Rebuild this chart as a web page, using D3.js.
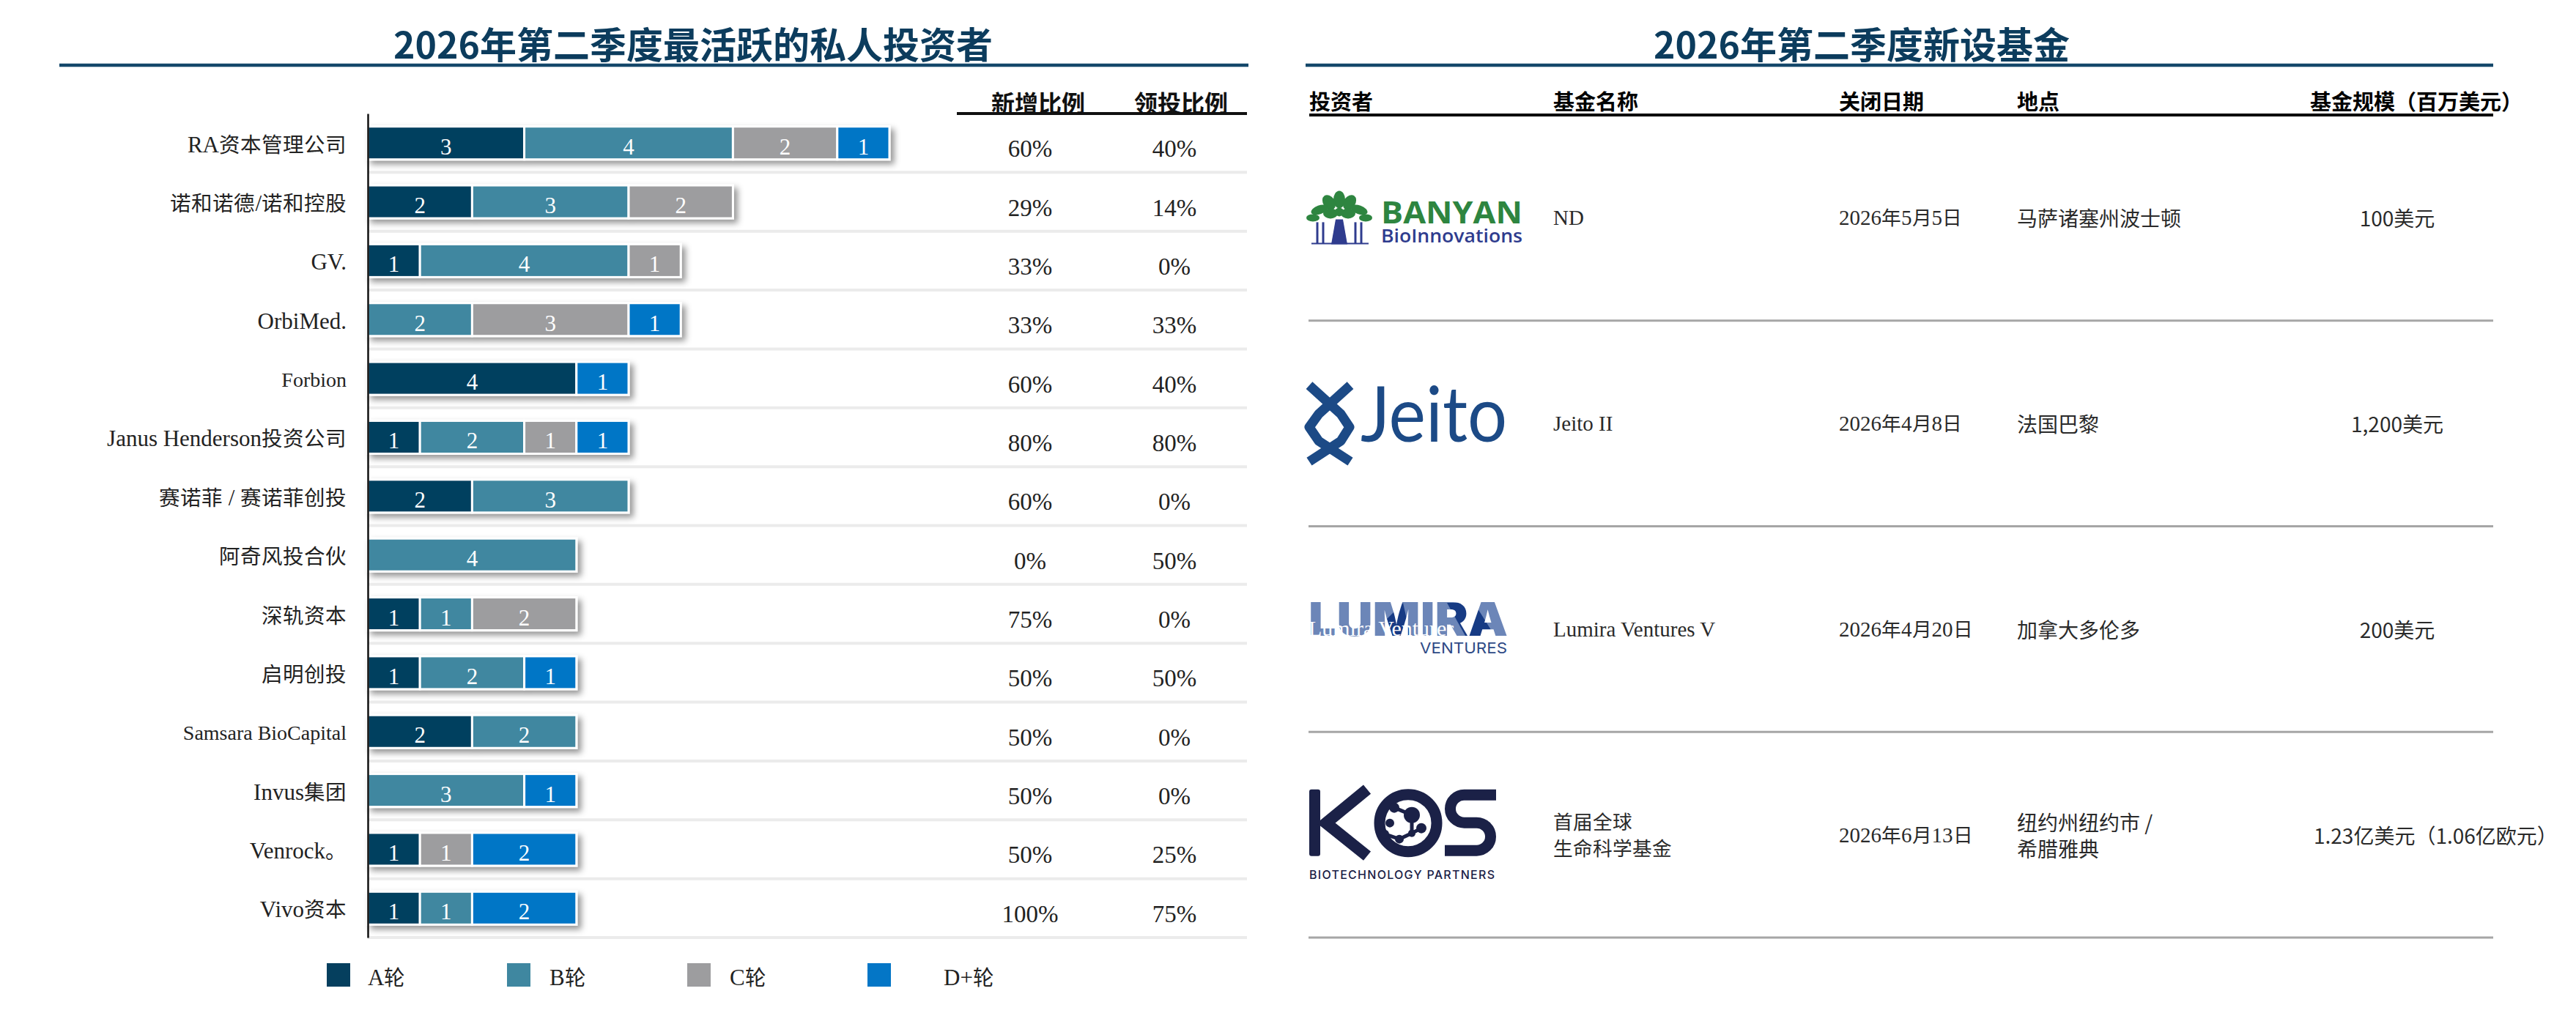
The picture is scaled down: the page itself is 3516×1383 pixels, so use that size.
<!DOCTYPE html>
<html>
<head>
<meta charset="utf-8">
<script src="https://cdn.jsdelivr.net/npm/d3@7"></script>
<style>
  @font-face {
    font-family: "CJKNarrow";
    src: local("Noto Sans CJK SC"), local("Noto Sans CJK SC Regular"), local("NotoSansCJKsc-Regular");
    unicode-range: U+3000-303F, U+4E00-9FFF, U+FF00-FFEF;
    size-adjust: 92%;
  }
  html, body { margin: 0; padding: 0; background: #fff; }
  svg { display: block; }
</style>
</head>
<body>
<svg id="chart" width="3516" height="1383"></svg>
<script>
// ---- data: left panel ----
const investors = ["RA资本管理公司", "诺和诺德/诺和控股", "GV.", "OrbiMed.", "Forbion",
  "Janus Henderson投资公司", "赛诺菲 / 赛诺菲创投", "阿奇风投合伙", "深轨资本", "启明创投",
  "Samsara BioCapital", "Invus集团", "Venrock。", "Vivo资本"];
const rounds = ["A轮", "B轮", "C轮", "D+轮"];
const roundA = [3, 2, 1, 0, 4, 1, 2, 0, 1, 1, 2, 0, 1, 1];
const roundB = [4, 3, 4, 2, 0, 2, 3, 4, 1, 2, 2, 3, 0, 1];
const roundC = [2, 2, 1, 3, 0, 1, 0, 0, 2, 0, 0, 0, 1, 0];
const roundD = [1, 0, 0, 1, 1, 1, 0, 0, 0, 1, 0, 1, 2, 2];
const newShare = [60, 29, 33, 33, 60, 80, 60, 0, 75, 50, 50, 50, 50, 100];
const leadShare = [40, 14, 0, 33, 40, 80, 0, 50, 0, 50, 0, 0, 25, 75];
const pctHeaders = ["新增比例", "领投比例"];

// ---- data: right panel ----
const fundInvestors = ["BANYAN BioInnovations", "Jeito", "Lumira Ventures", "KOS Biotechnology Partners"];
const fundNames = ["ND", "Jeito II", "Lumira Ventures V", "首届全球\n生命科学基金"];
const closeDates = ["2026年5月5日", "2026年4月8日", "2026年4月20日", "2026年6月13日"];
const locations = ["马萨诸塞州波士顿", "法国巴黎", "加拿大多伦多", "纽约州纽约市 /\n希腊雅典"];
const fundSizes = ["100美元", "1,200美元", "200美元", "1.23亿美元（1.06亿欧元）"];
const fundHeaders = ["投资者", "基金名称", "关闭日期", "地点", "基金规模（百万美元）"];

const titles = ["2026年第二季度最活跃的私人投资者", "2026年第二季度新设基金"];

// ---- styles ----
const SERIF = '"Liberation Serif", "CJKNarrow", "Noto Sans CJK SC", serif';
const SANS = '"Noto Sans CJK SC", "Noto Sans", sans-serif';
const TITLE_COLOR = "#0c3c5d";
const color = d3.scaleOrdinal().domain(rounds).range(["#053f5e", "#3f87a0", "#9d9d9f", "#0476c6"]);

const svg = d3.select("#chart");
const defs = svg.append("defs");
defs.append("filter").attr("id", "shadow")
  .attr("x", "-10%").attr("y", "-50%").attr("width", "130%").attr("height", "220%")
  .append("feDropShadow")
  .attr("dx", 5).attr("dy", 5).attr("stdDeviation", 4)
  .attr("flood-color", "#000").attr("flood-opacity", 0.42);

// ---- titles ----
const titleX = [946, 2541];
const titleLine = [[81, 1704], [1782, 3403]];
titles.forEach((t, i) => {
  svg.append("text")
    .attr("x", titleX[i]).attr("y", 58)
    .attr("text-anchor", "middle").attr("dominant-baseline", "central")
    .style("font-family", SANS).style("font-weight", 700)
    .style("font-size", "50px")
    .attr("fill", TITLE_COLOR).text(t);
  svg.append("line")
    .attr("x1", titleLine[i][0]).attr("x2", titleLine[i][1])
    .attr("y1", 89).attr("y2", 89)
    .attr("stroke", "#14476a").attr("stroke-width", 4.5);
});

// ================= left panel: stacked bars =================
const rows = investors.map((name, i) => ({
  name, "A轮": roundA[i], "B轮": roundB[i], "C轮": roundC[i], "D+轮": roundD[i]
}));
const series = d3.stack().keys(rounds)(rows);

const x = d3.scaleLinear().domain([0, 10]).range([502, 1214]);
const y = d3.scaleBand().domain(investors).range([155, 1280]);
const barH = y.bandwidth() * 0.56;

// row separators
svg.append("g").selectAll("line")
  .data(investors)
  .join("line")
  .attr("x1", 502).attr("x2", 1702)
  .attr("y1", d => y(d) + y.step()).attr("y2", d => y(d) + y.step())
  .attr("stroke", "#ebebeb").attr("stroke-width", 4);

// segments of one row, from the stack
const segsOf = i => series
  .map(s => ({ key: s.key, v: s[i][1] - s[i][0], x0: s[i][0], x1: s[i][1] }))
  .filter(d => d.v > 0);

// bars
const barRows = svg.append("g").selectAll("g")
  .data(rows)
  .join("g")
  .attr("filter", "url(#shadow)");

barRows.each(function (r, i) {
  const top = y(r.name) + (y.bandwidth() - barH) / 2;
  d3.select(this).selectAll("rect").data(segsOf(i)).join("rect")
    .attr("x", d => x(d.x0)).attr("width", d => x(d.x1) - x(d.x0))
    .attr("y", top).attr("height", barH)
    .attr("fill", d => color(d.key))
    .attr("stroke", "#fff").attr("stroke-width", 3);
});

// segment numbers
const numbers = svg.append("g");
rows.forEach((r, i) => {
  numbers.append("g").selectAll("text").data(segsOf(i)).join("text")
    .attr("x", d => (x(d.x0) + x(d.x1)) / 2)
    .attr("y", y(r.name) + y.bandwidth() / 2 + 5)
    .attr("text-anchor", "middle").attr("dominant-baseline", "central")
    .style("font-family", SERIF).style("font-size", "31px")
    .attr("fill", "#fff").text(d => d.v);
});

// category axis
const smallLabels = new Set(["Forbion", "Samsara BioCapital"]);
const yAxis = svg.append("g")
  .attr("transform", "translate(502,0)")
  .call(d3.axisLeft(y).tickSize(0).tickPadding(29));
yAxis.select(".domain").attr("stroke", "#111").attr("stroke-width", 2.5);
yAxis.selectAll(".tick text")
  .attr("dy", null).attr("y", 2)
  .attr("dominant-baseline", "central")
  .style("font-family", SERIF)
  .style("font-size", d => smallLabels.has(d) ? "28px" : "31px")
  .attr("fill", "#222");

// percentage columns
const pctX = [1406, 1603];
const pctHeadX = [1417, 1612];
[newShare, leadShare].forEach((vals, c) => {
  svg.append("g").selectAll("text")
    .data(investors)
    .join("text")
    .attr("x", pctX[c])
    .attr("y", d => y(d) + y.bandwidth() / 2 + 8)
    .attr("text-anchor", "middle").attr("dominant-baseline", "central")
    .style("font-family", SERIF).style("font-size", "33px")
    .attr("fill", "#222")
    .text((d, i) => vals[i] + "%");
  svg.append("text")
    .attr("x", pctHeadX[c]).attr("y", 139)
    .attr("text-anchor", "middle").attr("dominant-baseline", "central")
    .style("font-family", SANS).style("font-weight", 700).style("font-size", "32px")
    .attr("fill", "#111").text(pctHeaders[c]);
});
svg.append("line")
  .attr("x1", 1306).attr("x2", 1702).attr("y1", 155).attr("y2", 155)
  .attr("stroke", "#111").attr("stroke-width", 4);

// legend
const legendX = d3.scalePoint().domain(rounds).range([446, 1184]);
const legendTextDx = [56, 58, 58, 104];
const legend = svg.append("g").selectAll("g")
  .data(rounds)
  .join("g")
  .attr("transform", d => `translate(${legendX(d)},1315)`);
legend.append("rect")
  .attr("width", 32).attr("height", 32)
  .attr("fill", d => color(d));
legend.append("text")
  .attr("x", (d, i) => legendTextDx[i]).attr("y", 19)
  .attr("dominant-baseline", "central")
  .style("font-family", SERIF).style("font-size", "31px")
  .attr("fill", "#222").text(d => d);

// ================= right panel: new funds table =================
const headX = [1787, 2120, 2510, 2753, 3153];
svg.append("g").selectAll("text")
  .data(fundHeaders)
  .join("text")
  .attr("x", (d, i) => headX[i]).attr("y", 137)
  .attr("dominant-baseline", "central")
  .style("font-family", SANS).style("font-weight", 700).style("font-size", "29px")
  .attr("fill", "#000").text(d => d);
svg.append("line")
  .attr("x1", 1787).attr("x2", 3403).attr("y1", 157).attr("y2", 157)
  .attr("stroke", "#000").attr("stroke-width", 4);

const yF = d3.scaleBand().domain(fundInvestors).range([157, 1280]);

svg.append("g").selectAll("line")
  .data(fundInvestors)
  .join("line")
  .attr("x1", 1786).attr("x2", 3403)
  .attr("y1", d => yF(d) + yF.bandwidth()).attr("y2", d => yF(d) + yF.bandwidth())
  .attr("stroke", "#a6a6a6").attr("stroke-width", 3);

function cell(vals, xPos, font, size, anchor) {
  return svg.append("g").selectAll("text")
    .data(fundInvestors)
    .join("text")
    .attr("x", xPos).attr("y", d => yF(d) + yF.bandwidth() / 2)
    .attr("text-anchor", anchor).attr("dominant-baseline", "central")
    .style("font-family", font).style("font-size", size + "px")
    .attr("fill", "#2a2a2a")
    .each(function (d, i) {
      const lines = vals[i].split("\n");
      d3.select(this).selectAll("tspan").data(lines).join("tspan")
        .attr("x", xPos)
        .attr("dy", (l, j) => j === 0 ? -(lines.length - 1) * 18 : 36)
        .text(l => l);
    });
}
cell(fundNames, 2120, SERIF, 29, "start");
cell(closeDates, 2510, SERIF, 29, "start");
cell(locations, 2753, SANS, 28, "start");
// size column: centred in its cell, overflowing text starts at the cell's left edge
const sizeCell = { left: 3158, centre: 3272, width: 250 };
cell(fundSizes, sizeCell.centre, SANS, 28, "middle")
  .each(function () {
    const w = this.getComputedTextLength();
    if (w > sizeCell.width) {
      d3.select(this).attr("text-anchor", "start").attr("x", sizeCell.left)
        .selectAll("tspan").attr("x", sizeCell.left);
    }
  });

// ---- investor logos (redrawn as simple vector marks) ----
const logos = svg.append("g").selectAll("g")
  .data(fundInvestors)
  .join("g")
  .attr("transform", d => `translate(1786,${yF(d) + yF.bandwidth() / 2})`);

const logoDraw = {
  "BANYAN BioInnovations": g => {
    const green = "#2e8540", navy = "#2f3c8e";
    const leaves = [[42, -25, 8, 12, 0], [28, -21, 8, 11, -35], [56, -21, 8, 11, 35],
      [15, -11, 12, 6, -20], [69, -11, 12, 6, 20], [6, 0, 9, 5, 0], [78, 0, 9, 5, 0],
      [30, -6, 10, 7, 0], [54, -6, 10, 7, 0], [42, -8, 6, 6, 0]];
    g.selectAll("ellipse").data(leaves).join("ellipse")
      .attr("transform", d => `translate(${d[0]},${d[1]}) rotate(${d[4]})`)
      .attr("rx", d => d[2]).attr("ry", d => d[3]).attr("fill", green);
    g.append("path").attr("d", "M31,36 L37,2 L47,2 L53,36 Z").attr("fill", navy);
    [12, 20, 64, 72].forEach(px => g.append("line")
      .attr("x1", px).attr("x2", px).attr("y1", 6).attr("y2", 35)
      .attr("stroke", navy).attr("stroke-width", 3));
    g.append("line").attr("x1", 4).attr("x2", 82).attr("y1", 35).attr("y2", 35)
      .attr("stroke", navy).attr("stroke-width", 2);
    g.append("text").attr("x", 99).attr("y", 8)
      .style("font-family", '"Open Sans", sans-serif').style("font-weight", 700).style("font-size", "42px")
      .attr("textLength", 193).attr("lengthAdjust", "spacingAndGlyphs")
      .attr("fill", green).text("BANYAN");
    g.append("text").attr("x", 99).attr("y", 34)
      .style("font-family", '"Open Sans", sans-serif').style("font-weight", 600).style("font-size", "26px")
      .attr("textLength", 193).attr("lengthAdjust", "spacingAndGlyphs")
      .attr("fill", navy).text("BioInnovations");
  },
  "Jeito": g => {
    const blue = "#1c4a86";
    const strands = [[[1, -52], [44, -13], [56, 5], [44, 24], [1, 52]],
      [[57, -52], [14, -13], [1, 5], [14, 24], [57, 52]]];
    g.selectAll("path").data(strands).join("path")
      .attr("d", d3.line())
      .attr("fill", "none").attr("stroke", blue).attr("stroke-width", 13)
      .attr("stroke-linejoin", "round");
    g.append("text").attr("x", 71).attr("y", 25)
      .style("font-family", "Lato, sans-serif").style("font-weight", 400).style("font-size", "104px")
      .attr("textLength", 200).attr("lengthAdjust", "spacingAndGlyphs")
      .attr("fill", blue).text("Jeito");
  },
  "Lumira Ventures": g => {
    const clip = defs.append("clipPath").attr("id", "lumClip");
    clip.append("text").attr("x", 0).attr("y", 9)
      .style("font-family", "Inter, sans-serif").style("font-weight", 900).style("font-size", "63px")
      .attr("textLength", 272).attr("lengthAdjust", "spacingAndGlyphs").text("LUMIRA");
    const inner = g.append("g").attr("clip-path", "url(#lumClip)");
    inner.append("rect").attr("x", 0).attr("y", -40).attr("width", 275).attr("height", 52).attr("fill", "#6c86b8");
    inner.append("polygon").attr("points", "189,-36 226,-36 254,9 214,9").attr("fill", "#173b84");
    inner.append("polygon").attr("points", "107,-14 129,-36 139,9 114,9").attr("fill", "#173b84");
    g.append("text").attr("x", 152).attr("y", 33)
      .style("font-family", "Inter, sans-serif").style("font-weight", 400).style("font-size", "20px")
      .attr("textLength", 119).attr("lengthAdjust", "spacingAndGlyphs")
      .attr("fill", "#2e4a86").text("VENTURES");
    g.append("text").attr("x", 0).attr("y", 9)
      .style("font-family", SERIF).style("font-size", "29px")
      .attr("textLength", 200).attr("lengthAdjust", "spacingAndGlyphs")
      .attr("fill", "#fff").text("Lumira Ventures");
  },
  "KOS Biotechnology Partners": g => {
    const navy = "#1b2147";
    g.append("rect").attr("x", 1).attr("y", -62).attr("width", 15).attr("height", 91).attr("rx", 3).attr("fill", navy);
    g.append("path").attr("d", "M80,-62 L24,-16 L80,29")
      .attr("fill", "none").attr("stroke", navy).attr("stroke-width", 16);
    g.append("circle").attr("cx", 136).attr("cy", -16).attr("r", 39)
      .attr("fill", "none").attr("stroke", navy).attr("stroke-width", 15);
    const dots = [[141, -27, 11], [117, -37, 7], [111, -16, 6], [104, -1, 6], [124, 6, 6], [141, -2, 5], [154, -9, 7]];
    g.append("path").attr("d", "M117,-37 L141,-27 L141,-2 M104,-1 L124,6 L141,-2 L154,-9")
      .attr("fill", "none").attr("stroke", navy).attr("stroke-width", 5);
    g.selectAll("circle.dot").data(dots).join("circle").attr("class", "dot")
      .attr("cx", d => d[0]).attr("cy", d => d[1]).attr("r", d => d[2]).attr("fill", navy);
    g.append("path").attr("d", "M256,-54.5 L212.5,-54.5 A19,19 0 0 0 212.5,-16.5 L229.5,-16.5 A19,19 0 0 1 229.5,21.5 L186,21.5")
      .attr("fill", "none").attr("stroke", navy).attr("stroke-width", 15);
    g.append("text").attr("x", 1).attr("y", 60)
      .style("font-family", "Inter, sans-serif").style("font-weight", 500).style("font-size", "16px")
      .attr("textLength", 253).attr("lengthAdjust", "spacing")
      .attr("fill", navy).text("BIOTECHNOLOGY PARTNERS");
  }
};
logos.each(function (d) { logoDraw[d](d3.select(this)); });
</script>
</body>
</html>
